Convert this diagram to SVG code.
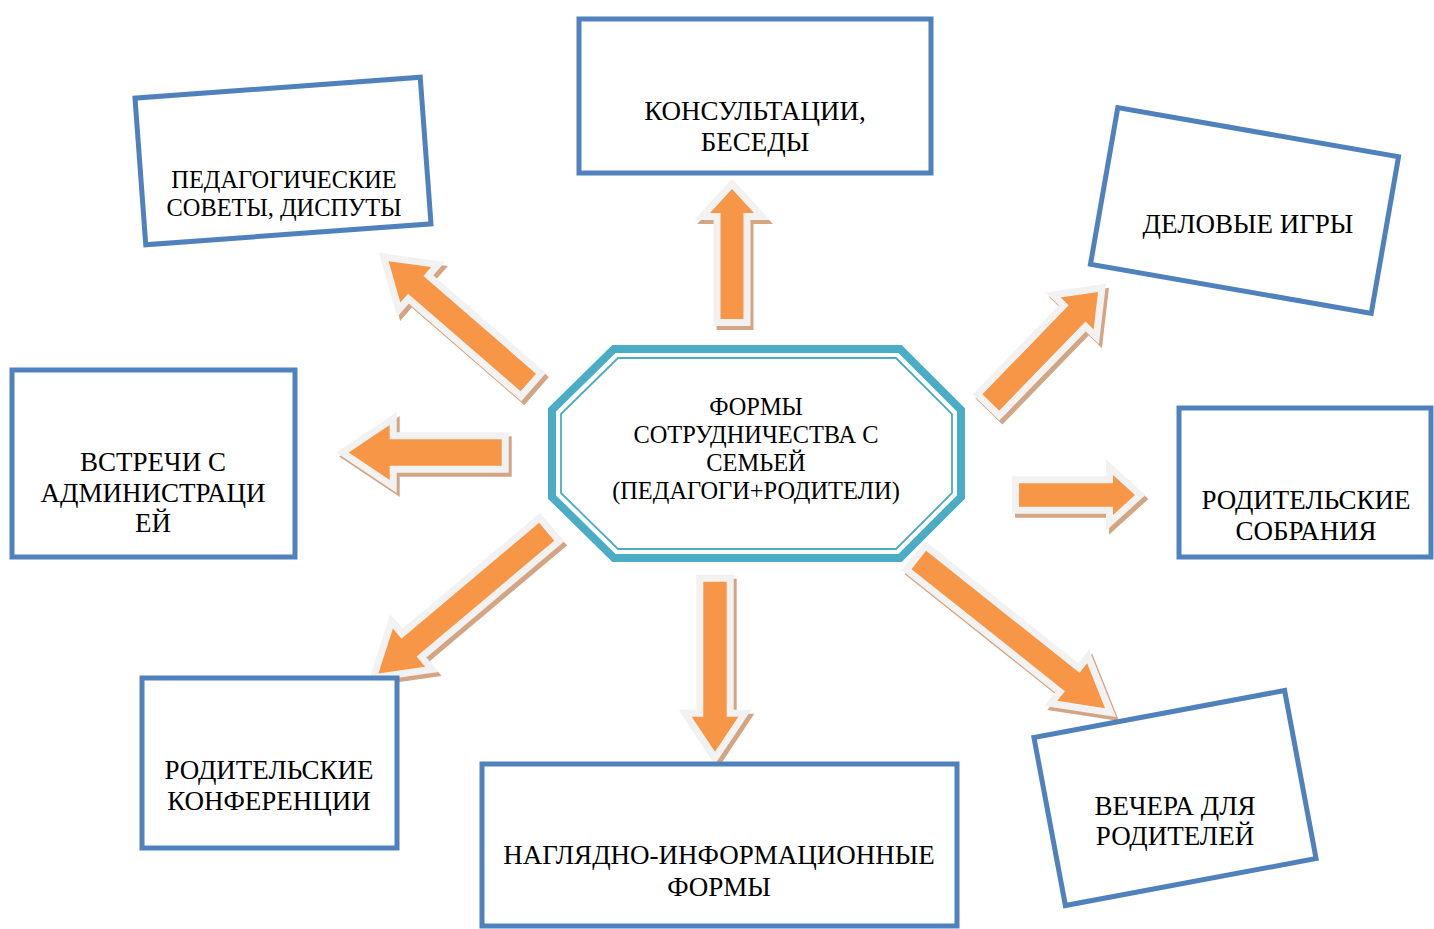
<svg xmlns="http://www.w3.org/2000/svg" xmlns:xlink="http://www.w3.org/1999/xlink" width="1434" height="929" viewBox="0 0 1434 929">
<style>
.sh{fill:#D3A583;stroke:#D3A583;stroke-width:14;stroke-linejoin:miter;stroke-miterlimit:10}
.ar{fill:#F79646;stroke:#F2F2F2;stroke-width:14;stroke-linejoin:miter;stroke-miterlimit:10;paint-order:stroke}
.box{fill:#FFFFFF;stroke:#4F81BD;stroke-width:5}
.t{font-family:"Liberation Serif","Times New Roman",serif;font-size:27px;fill:#000;text-anchor:middle}
.ts{font-size:24.4px}
.oct1{fill:#FFFFFF;stroke:#4BACC6;stroke-width:8}
.oct2{fill:none;stroke:#4BACC6;stroke-width:1.8}
</style>
<defs>
<path id="a1" transform="translate(732,319) rotate(-90)" d="M0,-11.5 H106 V-22 L130,0 L106,22 V11.5 H0 Z"/>
<path id="a2" transform="translate(528.3,382.5) rotate(220.96)" d="M0,-11.7 H149 V-23.5 L185,0 L149,23.5 V11.7 H0 Z"/>
<path id="a3" transform="translate(501.7,452.5) rotate(180)" d="M0,-13.3 H112 V-27.5 L153,0 L112,27.5 V13.3 H0 Z"/>
<path id="a4" transform="translate(546.7,531.7) rotate(139.9)" d="M0,-11.7 H180 V-25 L220,0 L180,25 V11.7 H0 Z"/>
<path id="a5" transform="translate(715,581.7) rotate(90)" d="M0,-11.7 H135 V-23.3 L170,0 L135,23.3 V11.7 H0 Z"/>
<path id="a6" transform="translate(918.8,560) rotate(38.5)" d="M0,-11.7 H196 V-24 L238,0 L196,24 V11.7 H0 Z"/>
<path id="a7" transform="translate(1019,495)" d="M0,-11.7 H94 V-20 L116,0 L94,20 V11.7 H0 Z"/>
<path id="a8" transform="translate(990.8,402.5) rotate(-45.9)" d="M0,-11.7 H124 V-23 L154,0 L124,23 V11.7 H0 Z"/>
</defs>
<rect width="1434" height="929" fill="#FFFFFF"/>
<g id="connectors">
<use class="sh" xlink:href="#a1" href="#a1" x="3" y="4"/><use class="ar" xlink:href="#a1" href="#a1"/>
<use class="sh" xlink:href="#a2" href="#a2" x="3" y="4"/><use class="ar" xlink:href="#a2" href="#a2"/>
<use class="sh" xlink:href="#a3" href="#a3" x="3" y="4"/><use class="ar" xlink:href="#a3" href="#a3"/>
<use class="sh" xlink:href="#a4" href="#a4" x="3" y="4"/><use class="ar" xlink:href="#a4" href="#a4"/>
<use class="sh" xlink:href="#a5" href="#a5" x="3" y="4"/><use class="ar" xlink:href="#a5" href="#a5"/>
<use class="sh" xlink:href="#a6" href="#a6" x="3" y="4"/><use class="ar" xlink:href="#a6" href="#a6"/>
<use class="sh" xlink:href="#a7" href="#a7" x="3" y="4"/><use class="ar" xlink:href="#a7" href="#a7"/>
<use class="sh" xlink:href="#a8" href="#a8" x="3" y="4"/><use class="ar" xlink:href="#a8" href="#a8"/>
</g>
<g id="center">
<polygon class="oct1" points="614,349 900,349 961,410 961,497 900,558 614,558 552,497 552,410"/>
<polygon class="oct2" points="618,358 896,358 952,414 952,493 896,549 618,549 561,493 561,414"/>
<text class="t ts" x="756" y="415">ФОРМЫ</text>
<text class="t ts" x="756" y="443">СОТРУДНИЧЕСТВА С</text>
<text class="t ts" x="756" y="471">СЕМЬЕЙ</text>
<text class="t ts" x="756" y="499">(ПЕДАГОГИ+РОДИТЕЛИ)</text>
</g>
<g id="n-consult">
<rect class="box" x="579" y="19" width="352" height="154"/>
<text class="t" x="755" y="120">КОНСУЛЬТАЦИИ,</text>
<text class="t" x="755" y="151">БЕСЕДЫ</text>
</g>
<g id="n-pedsovet">
<rect class="box" x="-143" y="-73.5" width="286" height="147" transform="translate(283,161) rotate(-4.2)"/>
<text class="t ts" x="284" y="188">ПЕДАГОГИЧЕСКИЕ</text>
<text class="t ts" x="284" y="216">СОВЕТЫ, ДИСПУТЫ</text>
</g>
<g id="n-games">
<rect class="box" x="-142.5" y="-79.5" width="285" height="159" transform="translate(1244.5,210.5) rotate(9.9)"/>
<text class="t" x="1248" y="233">ДЕЛОВЫЕ ИГРЫ</text>
</g>
<g id="n-admin">
<rect class="box" x="12" y="370" width="283" height="187"/>
<text class="t" x="153" y="471">ВСТРЕЧИ С</text>
<text class="t" x="153" y="502">АДМИНИСТРАЦИ</text>
<text class="t" x="153" y="532">ЕЙ</text>
</g>
<g id="n-sobrania">
<rect class="box" x="1179" y="408" width="252" height="149"/>
<text class="t" x="1306" y="509">РОДИТЕЛЬСКИЕ</text>
<text class="t" x="1306" y="540">СОБРАНИЯ</text>
</g>
<g id="n-konf">
<rect class="box" x="142" y="678" width="255" height="170"/>
<text class="t" x="269" y="779">РОДИТЕЛЬСКИЕ</text>
<text class="t" x="269" y="810">КОНФЕРЕНЦИИ</text>
</g>
<g id="n-nagl">
<rect class="box" x="482" y="764" width="475" height="162"/>
<text class="t" x="719" y="864">НАГЛЯДНО-ИНФОРМАЦИОННЫЕ</text>
<text class="t" x="719" y="896">ФОРМЫ</text>
</g>
<g id="n-vechera">
<rect class="box" x="-127.5" y="-85.5" width="255" height="171" transform="translate(1175,798) rotate(-10.6)"/>
<text class="t" x="1175" y="815">ВЕЧЕРА ДЛЯ</text>
<text class="t" x="1175" y="845">РОДИТЕЛЕЙ</text>
</g>
</svg>
